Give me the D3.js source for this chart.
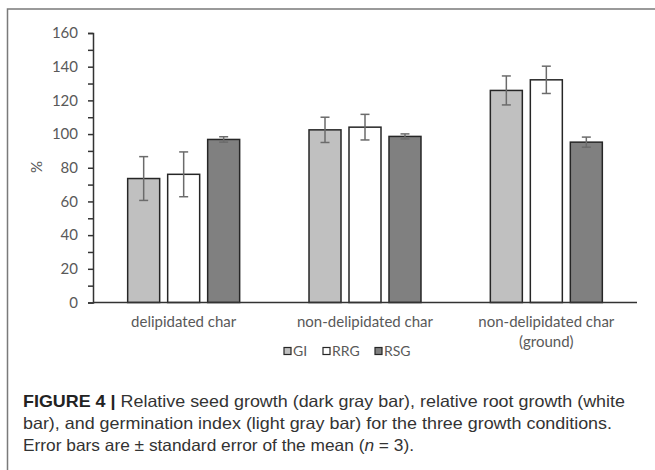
<!DOCTYPE html>
<html>
<head>
<meta charset="utf-8">
<script src="https://cdn.jsdelivr.net/npm/d3@7"></script>
<style>
  html, body { margin: 0; padding: 0; background: #fff; }
  svg { display: block; }
</style>
</head>
<body>
<div id="grafico"></div>
<script>
// dados
const categorias = ["delipidated char", "non-delipidated char", "non-delipidated char (ground)"];
const rotulosX = [["delipidated char"], ["non-delipidated char"], ["non-delipidated char", "(ground)"]];
const series = ["GI", "RRG", "RSG"];
const valoresGI = [73.6, 102.5, 125.9];
const valoresRRG = [76.1, 104.1, 132.2];
const valoresRSG = [96.8, 98.6, 95.2];
const erroGI = [13.0, 7.5, 8.6];
const erroRRG = [13.3, 7.6, 8.1];
const erroRSG = [1.6, 1.5, 3.0];
const ticksY = [0, 20, 40, 60, 80, 100, 120, 140, 160];
const ticksMenores = [10, 30, 50, 70, 90, 110, 130, 150];
const legenda = ["GI", "RRG", "RSG"];
const legenda_x = [284, 323, 375];

const cores = { GI: "#c0c0c0", RRG: "#ffffff", RSG: "#808080" };
const valores = { GI: valoresGI, RRG: valoresRRG, RSG: valoresRSG };
const erros = { GI: erroGI, RRG: erroRRG, RSG: erroRSG };

const fonteGrafico = "Lato, 'Open Sans', sans-serif";
const largura = 655, altura = 470;
const margin = { top: 33, bottom: 168, left: 93, right: 18 };

const svg = d3.select("#grafico").append("svg")
    .attr("width", largura)
    .attr("height", altura);

// moldura cinza (cortada à direita e em baixo)
svg.append("rect")
    .attr("x", 7.5).attr("y", 9)
    .attr("width", 700).attr("height", 500)
    .attr("fill", "none")
    .attr("stroke", "#7a7a7a")
    .attr("stroke-width", 1.5);

// escalas
const x0 = d3.scaleBand()
    .domain(categorias)
    .range([margin.left, largura - margin.right])
    .padding(0);

const x1 = d3.scaleBand()
    .domain(series)
    .range([0, x0.bandwidth()])
    .paddingInner(0.2)
    .paddingOuter(0.867);

const y = d3.scaleLinear()
    .domain([0, 160])
    .range([altura - margin.bottom + 0.5, margin.top]);

// barras
const dados = [];
categorias.forEach((c, i) => {
    series.forEach(s => {
        dados.push({ cat: c, serie: s, valor: valores[s][i], erro: erros[s][i] });
    });
});

svg.append("g").selectAll("rect")
    .data(dados)
    .enter()
    .append("rect")
    .attr("x", d => x0(d.cat) + x1(d.serie))
    .attr("y", d => y(d.valor))
    .attr("width", x1.bandwidth())
    .attr("height", d => y(0) - y(d.valor))
    .attr("fill", d => cores[d.serie])
    .attr("stroke", "#262626")
    .attr("stroke-width", 1.5);

// barras de erro
const gErro = svg.append("g")
    .attr("stroke", "#6b6b6b")
    .attr("stroke-width", 1.5);

dados.forEach(d => {
    const cx = x0(d.cat) + x1(d.serie) + x1.bandwidth() / 2;
    const yt = y(d.valor + d.erro), yb = y(d.valor - d.erro);
    gErro.append("line").attr("x1", cx).attr("x2", cx).attr("y1", yt).attr("y2", yb);
    gErro.append("line").attr("x1", cx - 4.5).attr("x2", cx + 4.5).attr("y1", yt).attr("y2", yt);
    gErro.append("line").attr("x1", cx - 4.5).attr("x2", cx + 4.5).attr("y1", yb).attr("y2", yb);
});

// eixo Y
const eixoY = svg.append("g")
    .attr("transform", `translate(${margin.left}, 0)`)
    .call(d3.axisLeft(y).tickValues(ticksY).tickSize(5).tickPadding(10));
eixoY.select(".domain").attr("stroke", "#333").attr("stroke-width", 1.5);
eixoY.selectAll(".tick line").attr("stroke", "#333").attr("stroke-width", 1.5);
eixoY.selectAll(".tick text")
    .style("font-family", fonteGrafico)
    .style("font-size", "15px")
    .attr("fill", "#595959");

const eixoYmenor = svg.append("g")
    .attr("transform", `translate(${margin.left}, 0)`)
    .call(d3.axisLeft(y).tickValues(ticksMenores).tickSize(5).tickFormat(""));
eixoYmenor.select(".domain").remove();
eixoYmenor.selectAll(".tick line").attr("stroke", "#333").attr("stroke-width", 1.5);

// eixo X (só a linha)
svg.append("line")
    .attr("x1", margin.left).attr("x2", largura - margin.right)
    .attr("y1", y(0)).attr("y2", y(0))
    .attr("stroke", "#333")
    .attr("stroke-width", 1.5);

// rótulos das categorias
const gRot = svg.append("g")
    .style("font-family", fonteGrafico)
    .style("font-size", "15px")
    .attr("fill", "#595959")
    .attr("text-anchor", "middle");

categorias.forEach((c, i) => {
    const t = gRot.append("text")
        .attr("x", x0(c) + x0.bandwidth() / 2)
        .attr("y", 327);
    rotulosX[i].forEach((linha, k) => {
        t.append("tspan")
            .attr("x", x0(c) + x0.bandwidth() / 2)
            .attr("dy", k === 0 ? 0 : 20)
            .text(linha);
    });
});

// título do eixo Y
svg.append("text")
    .attr("transform", "translate(42, 167) rotate(-90)")
    .attr("text-anchor", "middle")
    .style("font-family", fonteGrafico)
    .style("font-size", "15px")
    .attr("fill", "#595959")
    .text("%");

// legenda
const gLeg = svg.append("g");
legenda.forEach((s, i) => {
    gLeg.append("rect")
        .attr("x", legenda_x[i]).attr("y", 347.5)
        .attr("width", 7).attr("height", 7)
        .attr("fill", cores[s])
        .attr("stroke", "#262626")
        .attr("stroke-width", 1.2);
    gLeg.append("text")
        .attr("x", legenda_x[i] + 9)
        .attr("y", 356)
        .style("font-family", fonteGrafico)
        .style("font-size", "14px")
        .attr("fill", "#595959")
        .text(s);
});

// legenda da figura
const legendaFig = [
    { y: 407, w: 602, bold: "FIGURE 4 | ", resto: "Relative seed growth (dark gray bar), relative root growth (white" },
    { y: 429, w: 589, bold: "", resto: "bar), and germination index (light gray bar) for the three growth conditions." },
    { y: 451, w: 391, bold: "", resto: null }
];

legendaFig.forEach(l => {
    const t = svg.append("text")
        .attr("x", 23)
        .attr("y", l.y)
        .attr("textLength", l.w)
        .attr("lengthAdjust", "spacingAndGlyphs")
        .style("font-family", "'Liberation Sans', Arial, sans-serif")
        .style("font-size", "16.5px")
        .attr("fill", "#333");
    if (l.bold) {
        t.append("tspan").attr("font-weight", "bold").attr("fill", "#222").text(l.bold);
    }
    if (l.resto) {
        t.append("tspan").text(l.resto);
    } else {
        t.append("tspan").text("Error bars are \u00B1 standard error of the mean (");
        t.append("tspan").attr("font-style", "italic").text("n");
        t.append("tspan").text(" = 3).");
    }
});
</script>
</body>
</html>
